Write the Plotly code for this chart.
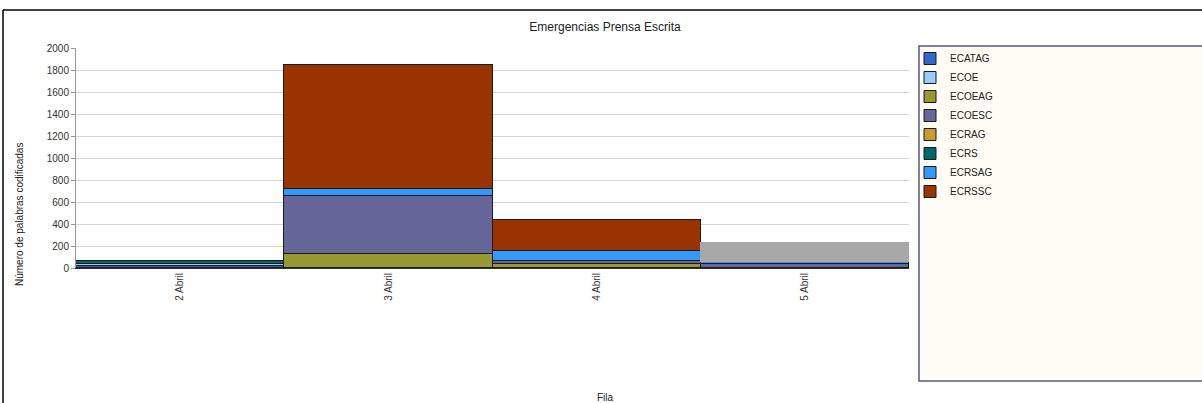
import plotly.graph_objects as go

categories = ["2 Abril", "3 Abril", "4 Abril", "5 Abril"]
series_names = ["ECATAG", "ECOE", "ECOEAG", "ECOESC", "ECRAG", "ECRS", "ECRSAG", "ECRSSC"]
ECATAG = [20, 0, 0, 0]
ECOE = [15, 0, 0, 0]
ECOEAG = [0, 127, 40, 0]
ECOESC = [5, 528, 28, 36]
ECRAG = [0, 0, 0, 0]
ECRS = [20, 0, 0, 0]
ECRSAG = [0, 63, 87, 20]
ECRSSC = [0, 1130, 278, 168]
values = [ECATAG, ECOE, ECOEAG, ECOESC, ECRAG, ECRS, ECRSAG, ECRSSC]
colors = ["#3366CC", "#99CCFF", "#999933", "#666699", "#CC9933", "#006666", "#3399FF", "#993300"]
highlight = "#A8A8A8"  # hovered/selected segment colour (5 Abril, ECRSSC)

# plot-area geometry in pixels
W, H = 1202, 403
L, R, T, B = 76, 909, 48, 268
pw, ph = R - L, B - T

def px(x):
    return (x - L) / pw

def py(y):
    return (B - y) / ph

font = "Liberation Sans, Arial, sans-serif"
fig = go.Figure()
for name, vals, col in zip(series_names, values, colors):
    if name == "ECRSSC":
        mc = [col] * (len(categories) - 1) + [highlight]
        lc = ["#1a1a1a"] * (len(categories) - 1) + [highlight]
    else:
        mc = col
        lc = "#1a1a1a"
    fig.add_trace(go.Bar(
        name=name, x=categories, y=vals,
        marker=dict(color=mc, line=dict(color=lc, width=1)),
    ))

shapes = [
    # legend box
    dict(type="rect", xref="paper", yref="paper", x0=px(919), x1=px(1210), y0=py(46), y1=py(381),
         fillcolor="#FFFCF5", line=dict(color="#55558A", width=1.5), layer="below"),
    # outer frame
    dict(type="line", xref="paper", yref="paper", x0=px(3), x1=px(1210), y0=py(10), y1=py(10),
         line=dict(color="#000000", width=1.5)),
    dict(type="line", xref="paper", yref="paper", x0=px(3), x1=px(3), y0=py(10), y1=py(410),
         line=dict(color="#000000", width=1.5)),
]

fig.update_layout(
    width=W, height=H,
    margin=dict(l=L, r=W - R, t=T, b=H - B),
    paper_bgcolor="white", plot_bgcolor="white",
    barmode="stack", bargap=0,
    showlegend=True,
    title=dict(text="Emergencias Prensa Escrita", x=605 / W, xanchor="center",
               y=1 - 27 / H, yanchor="middle", font=dict(family=font, size=12, color="#222")),
    legend=dict(x=px(910), y=py(44), xanchor="left", yanchor="top", traceorder="normal",
                bgcolor="rgba(0,0,0,0)", font=dict(family=font, size=10, color="#222"),
                tracegroupgap=0, itemclick=False),
    shapes=shapes,
    annotations=[
        dict(text="Número de palabras codificadas", xref="paper", yref="paper",
             x=px(19), y=py(215), xanchor="center", yanchor="middle", textangle=-90,
             showarrow=False, font=dict(family=font, size=10, color="#222")),
        dict(text="Fila", xref="paper", yref="paper", x=px(605), y=py(397),
             xanchor="center", yanchor="middle", showarrow=False,
             font=dict(family=font, size=10, color="#222")),
    ],
    xaxis=dict(type="category", tickangle=-90, tickfont=dict(family=font, size=10, color="#333"),
               showgrid=False, showline=True, linecolor="#333", linewidth=1, ticks="",
               fixedrange=True),
    yaxis=dict(range=[0, 2000], dtick=200, tickfont=dict(family=font, size=10, color="#333"),
               showgrid=True, gridcolor="#D4D4D4", gridwidth=1, zeroline=False,
               showline=True, linecolor="#999", linewidth=1, ticks="outside", ticklen=4,
               tickcolor="#999", fixedrange=True),
)

fig.write_html("out.html", config={"displayModeBar": False})
